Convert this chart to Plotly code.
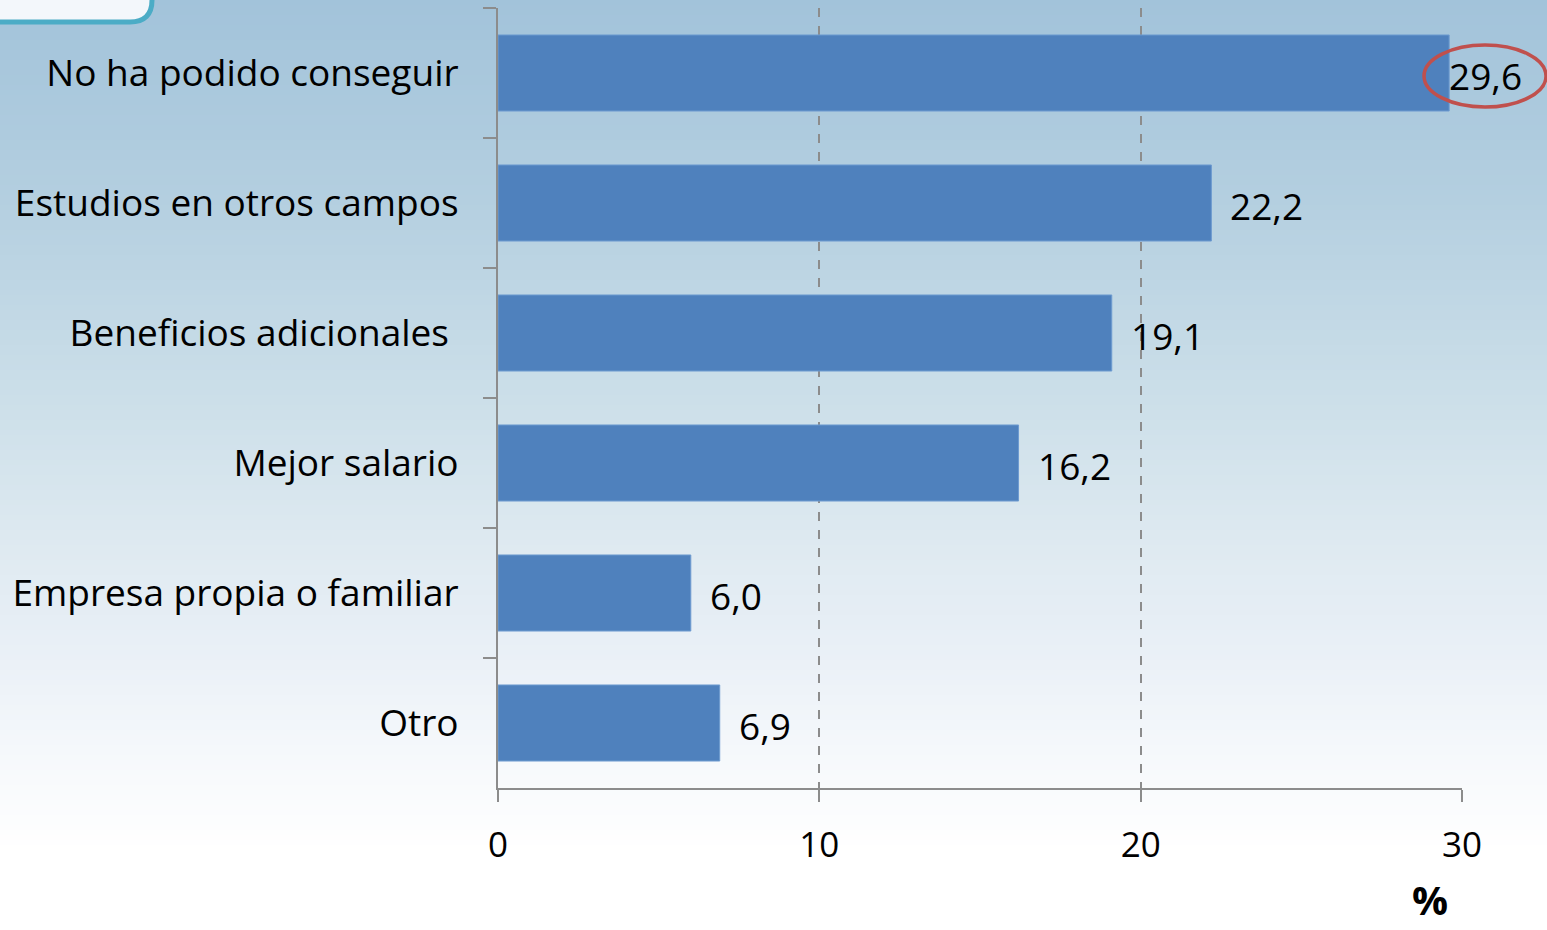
import plotly.graph_objects as go

categories = ["No ha podido conseguir", "Estudios en otros campos", "Beneficios adicionales\u00a0",
              "Mejor salario", "Empresa propia o familiar", "Otro"]
values = [29.6, 22.2, 19.1, 16.2, 6.0, 6.9]
label_shift = [-2, 17, 17, 17, 17, 17]
x_ticks = [0, 10, 20, 30]

W, H = 1547, 930
ML, MR, MT, MB = 498, 85, 8, 142
PW, PH = W - ML - MR, H - MT - MB


def px(x):
    return (x - ML) / PW


def py(y):
    return (H - MB - y) / PH


FONT = "Open Sans"

fig = go.Figure()
fig.add_trace(go.Bar(
    x=values, y=categories, orientation="h",
    marker=dict(color="#4F81BD", line=dict(color="#6E9BD0", width=1)),
    width=0.585, hoverinfo="skip",
))

# background gradient via stripes
stops = [(0, (162, 195, 218)), (200, (180, 207, 224)), (400, (204, 223, 233)),
         (550, (223, 234, 241)), (640, (232, 239, 246)), (750, (245, 248, 251)),
         (850, (255, 255, 255)), (930, (255, 255, 255))]


def col(y):
    for (y0, c0), (y1, c1) in zip(stops[:-1], stops[1:]):
        if y0 <= y <= y1:
            t = (y - y0) / (y1 - y0)
            return "rgb(%d,%d,%d)" % tuple(round(a + (b - a) * t) for a, b in zip(c0, c1))
    return "rgb(255,255,255)"


shapes = []
step = 5
for y in range(0, H, step):
    shapes.append(dict(type="rect", xref="paper", yref="paper",
                       x0=px(-5), x1=px(W + 5), y0=py(y), y1=py(y + step + 0.5),
                       fillcolor=col(y + step / 2), line=dict(width=0), layer="below"))

# top-left rounded box
r = 22
path = ("M %f,%f L %f,%f L %f,%f Q %f,%f %f,%f L %f,%f Z" % (
    px(-10), py(-10), px(152), py(-10), px(152), py(22 - r),
    px(152), py(22), px(152 - r), py(22), px(-10), py(22)))
shapes.append(dict(type="path", xref="paper", yref="paper", path=path,
                   fillcolor="#F3F7FB", line=dict(color="#4BACC6", width=5), layer="above"))

# red ellipse
shapes.append(dict(type="circle", xref="paper", yref="paper",
                   x0=px(1424), x1=px(1546), y0=py(107), y1=py(45),
                   line=dict(color="#C0504D", width=3.5), layer="above"))

annotations = []
for c, v, s in zip(categories, values, label_shift):
    annotations.append(dict(x=v, y=c, xref="x", yref="y", text=f"{v:.1f}".replace(".", ","),
                            showarrow=False, xanchor="left", xshift=s, yshift=-2,
                            font=dict(family=FONT, size=37, color="black")))
annotations.append(dict(x=px(1430), y=py(929), xref="paper", yref="paper", text="<b>%</b>",
                        showarrow=False, xanchor="center", yanchor="bottom",
                        font=dict(family=FONT, size=40, color="black")))

fig.update_layout(
    width=W, height=H,
    margin=dict(l=ML, r=MR, t=MT, b=MB),
    paper_bgcolor="white", plot_bgcolor="rgba(0,0,0,0)",
    showlegend=False, shapes=shapes, annotations=annotations,
    font=dict(family=FONT, size=36, color="black"),
    xaxis=dict(range=[0, 30], tickvals=x_ticks, ticktext=[str(t) for t in x_ticks],
               showgrid=True, gridcolor="#8C8C8C", griddash="dash", gridwidth=1.5,
               zeroline=False, showline=True, linecolor="#8C8C8C", linewidth=2,
               ticks="outside", ticklen=12, tickcolor="#8C8C8C", tickwidth=2,
               tickfont=dict(family=FONT, size=35, color="black"), ticklabelstandoff=13),
    yaxis=dict(categoryorder="array", categoryarray=categories, autorange="reversed",
               showgrid=False, zeroline=False, showline=True, linecolor="#8C8C8C", linewidth=2,
               ticks="outside", ticklen=13, tickcolor="#8C8C8C", tickwidth=2,
               tickson="boundaries", ticklabelstandoff=30,
               tickfont=dict(family=FONT, size=37, color="black")),
)

fig.write_html("out.html", config={"displayModeBar": False},
               post_script="document.body.style.margin='0px';document.body.style.overflow='hidden';")
